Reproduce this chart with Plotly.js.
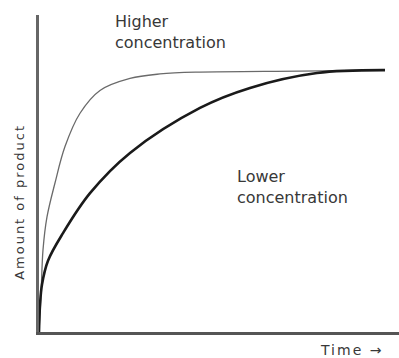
<!DOCTYPE html>
<html>
<head>
<meta charset="utf-8">
<script src="https://cdn.plot.ly/plotly-3.0.1.min.js"></script>
<style>html,body{margin:0;padding:0;background:#fff;}#chart{width:399px;height:358px;}</style>
</head>
<body>
<div id="chart"></div>
<script>
var timeHigh = [0, 0.056, 0.111, 0.222, 0.444, 0.722, 1.139, 1.694, 2.528, 3.361, 4.472, 7.25, 9.611];
var amountHigh = [0, 0.117, 0.259, 0.363, 0.470, 0.585, 0.690, 0.762, 0.800, 0.814, 0.820, 0.823, 0.826];
var timeLow = [0, 0.028, 0.083, 0.25, 0.667, 1.417, 2.528, 4.472, 5.861, 7.722, 9.611];
var amountLow = [0, 0.085, 0.150, 0.225, 0.312, 0.438, 0.565, 0.707, 0.770, 0.817, 0.826];
var labelHigh = "Higher<br>concentration";
var labelLow = "Lower<br>concentration";
var yTitle = "Amount of product";
var xTitle = "Time \u2192";

var traces = [
  {x: timeHigh, y: amountHigh, mode: 'lines', line: {color: '#6a6a6a', width: 1.3, shape: 'spline'}, hoverinfo: 'skip'},
  {x: timeLow, y: amountLow, mode: 'lines', line: {color: '#1a1a1a', width: 2.6, shape: 'spline'}, hoverinfo: 'skip'}
];
var font = {family: 'DejaVu Sans, sans-serif', size: 16, color: '#383838'};
var smallFont = {family: 'DejaVu Sans, sans-serif', size: 13, color: '#383838'};
function spaced(t, px) { return '<span style="letter-spacing:' + px + 'px">' + t + '</span>'; }
var layout = {
  width: 399, height: 358,
  margin: {l: 39, r: 0, t: 15, b: 26},
  paper_bgcolor: '#fff', plot_bgcolor: '#fff',
  showlegend: false,
  xaxis: {range: [0, 10], showgrid: false, zeroline: false, showticklabels: false, ticks: '', showline: true, linecolor: '#555', linewidth: 2.5},
  yaxis: {range: [0, 1], showgrid: false, zeroline: false, showticklabels: false, ticks: '', showline: true, linecolor: '#666', linewidth: 3},
  annotations: [
    {xref: 'paper', yref: 'paper', x: 0.206, y: 0.946, xanchor: 'left', yanchor: 'middle', align: 'left', text: labelHigh, showarrow: false, font: font},
    {xref: 'paper', yref: 'paper', x: 0.544, y: 0.457, xanchor: 'left', yanchor: 'middle', align: 'left', text: labelLow, showarrow: false, font: font},
    {xref: 'paper', yref: 'paper', x: -0.056, y: 0.41, xanchor: 'center', yanchor: 'middle', textangle: -90, text: spaced(yTitle, 2), showarrow: false, font: smallFont},
    {xref: 'paper', yref: 'paper', x: 0.869, y: -0.057, xanchor: 'center', yanchor: 'middle', text: spaced(xTitle, 2), showarrow: false, font: {family: 'DejaVu Sans, sans-serif', size: 14, color: '#383838'}}
  ]
};
Plotly.newPlot('chart', traces, layout, {staticPlot: true, displayModeBar: false});
</script>
</body>
</html>
